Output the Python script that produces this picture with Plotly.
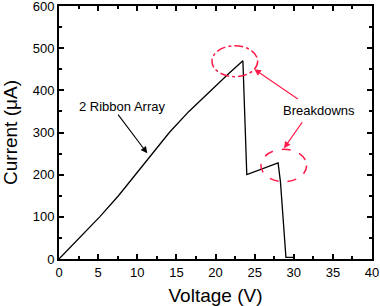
import plotly.graph_objects as go

voltage = [0, 2.6, 5.2, 7.6, 9.8, 12.0, 14.1, 16.6, 19.4, 21.7, 23.5, 24.0, 28.0, 28.3, 29.0, 29.9]
current = [0, 50, 100, 150, 200, 250, 300, 350, 400, 440, 470, 200, 228, 183, 4, 4]

x_ticks = [0, 5, 10, 15, 20, 25, 30, 35, 40]
y_ticks = [0, 100, 200, 300, 400, 500, 600]

RED = "#ff1a48"
FONT = "Liberation Sans, Arial, sans-serif"

fig = go.Figure()
fig.add_trace(go.Scatter(x=voltage, y=current, mode="lines",
                         line=dict(color="black", width=1.3), showlegend=False))

axis_common = dict(showgrid=False, zeroline=False, showline=True, linecolor="black",
                   linewidth=2, mirror="ticks", ticks="inside", ticklen=5,
                   tickwidth=1.5, tickcolor="black", automargin=False,
                   ticklabeloverflow="allow",
                   tickfont=dict(family=FONT, size=13, color="black"))

fig.update_xaxes(range=[x_ticks[0], x_ticks[-1]], tickmode="linear", tick0=x_ticks[0],
                 dtick=x_ticks[1] - x_ticks[0],
                 minor=dict(ticks="inside", ticklen=3, dtick=(x_ticks[1] - x_ticks[0]) / 2,
                            tickcolor="black", tickwidth=1.5),
                 title=dict(text="Voltage (V)", font=dict(family=FONT, size=19, color="black")),
                 **axis_common)
fig.update_yaxes(range=[y_ticks[0], y_ticks[-1]], tickmode="linear", tick0=y_ticks[0],
                 dtick=y_ticks[1] - y_ticks[0],
                 minor=dict(ticks="inside", ticklen=3, dtick=(y_ticks[1] - y_ticks[0]) / 2,
                            tickcolor="black", tickwidth=1.5),
                 title=dict(text="Current (μA)", font=dict(family=FONT, size=19, color="black")),
                 **axis_common)

fig.add_annotation(x=11.28, y=250.6, ax=7.41, ay=346, axref="x", ayref="y", xref="x", yref="y",
                   text="", showarrow=True, arrowhead=2, arrowsize=1.2, arrowwidth=1.1, arrowcolor="black")
fig.add_annotation(x=8.0, y=361, text="2 Ribbon Array", showarrow=False,
                   font=dict(family=FONT, size=13, color="black"))

fig.add_annotation(x=33.29, y=353, text="Breakdowns", showarrow=False,
                   font=dict(family=FONT, size=13, color="black"))
fig.add_annotation(x=24.96, y=449.8, ax=30.71, ay=377, axref="x", ayref="y", xref="x", yref="y",
                   text="", showarrow=True, arrowhead=2, arrowsize=1.2, arrowwidth=1.1, arrowcolor=RED)
fig.add_annotation(x=28.75, y=262.5, ax=31.22, ay=328, axref="x", ayref="y", xref="x", yref="y",
                   text="", showarrow=True, arrowhead=2, arrowsize=1.2, arrowwidth=1.1, arrowcolor=RED)

fig.add_shape(type="circle", xref="x", yref="y", x0=19.55, x1=25.39, y0=432.3, y1=505.8,
              line=dict(color=RED, width=1.5, dash="dashdot"))
fig.add_shape(type="circle", xref="x", yref="y", x0=25.81, x1=31.65, y0=183.3, y1=260.1,
              line=dict(color=RED, width=1.5, dash="dash"))

fig.update_layout(width=380, height=306, margin=dict(l=59, r=8, t=6, b=47),
                  plot_bgcolor="white", paper_bgcolor="white",
                  font=dict(family=FONT, color="black"))

fig.write_html("out.html", config={"displayModeBar": False},
               post_script="document.body.style.margin='0';")
